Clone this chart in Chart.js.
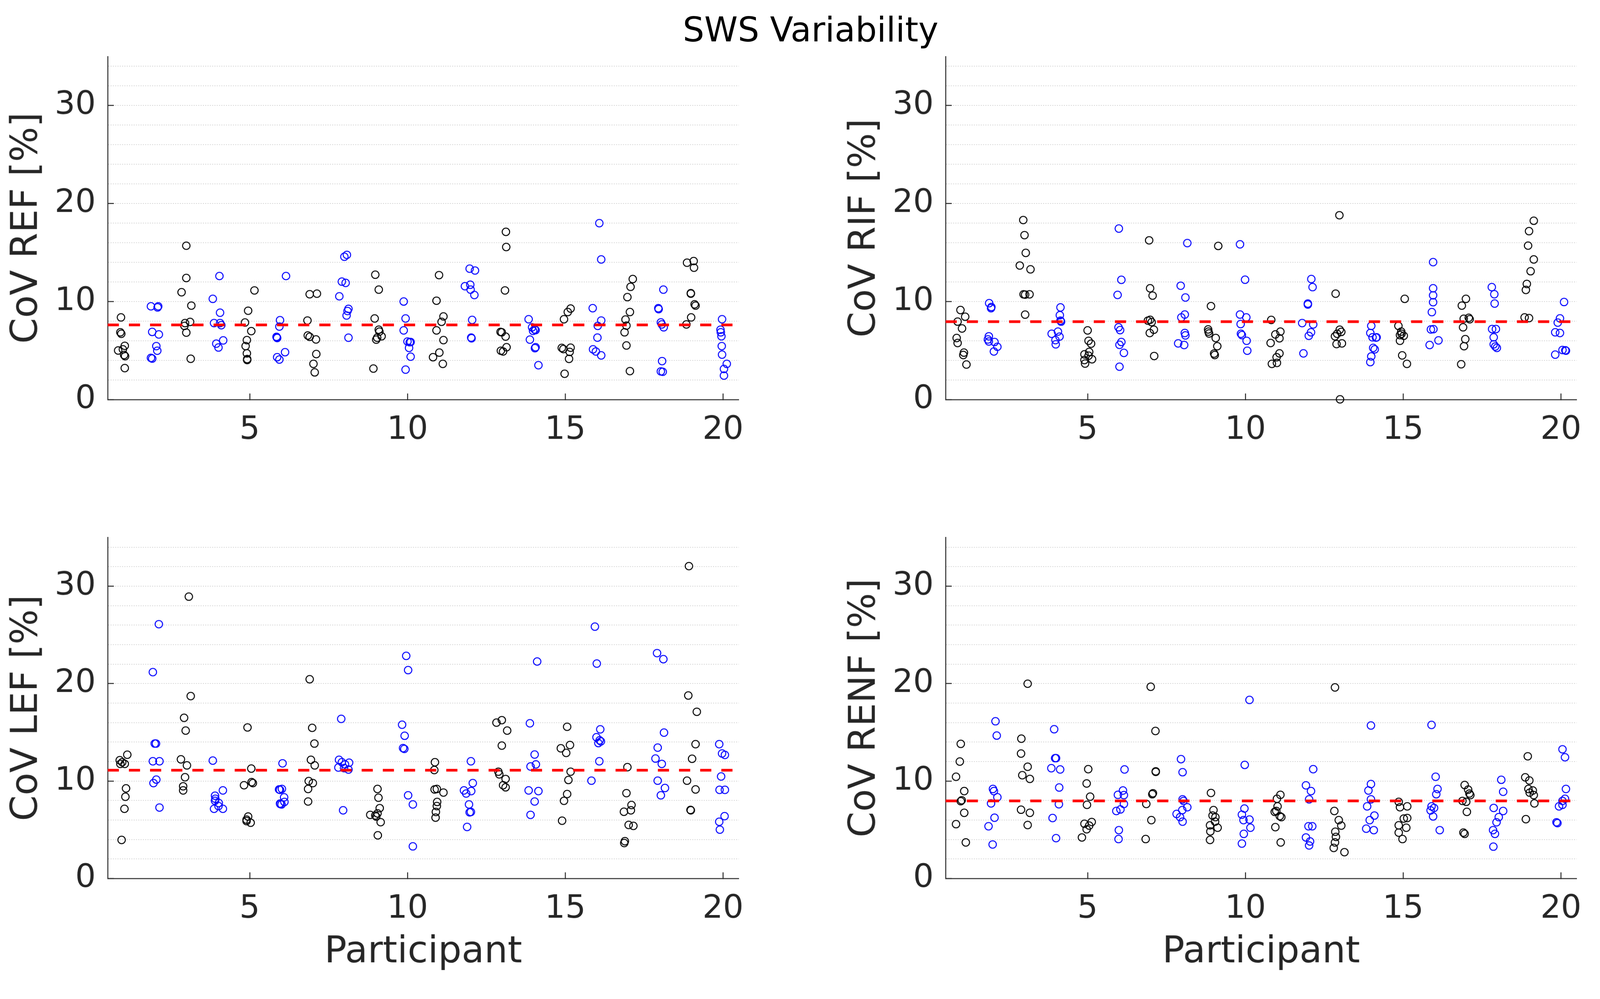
<!DOCTYPE html>
<html>
<head>
<meta charset="utf-8">
<title>SWS Variability</title>
<script src="https://cdn.jsdelivr.net/npm/chart.js@4.4.1/dist/chart.umd.min.js"></script>
<style>
  html, body { margin: 0; padding: 0; background: #fff; overflow: hidden; }
  #page { position: absolute; left: 0; top: 0; width: 4159px; height: 2558px; transform-origin: 0 0; font-family: "DejaVu Sans", sans-serif; }
  canvas { position: absolute; }
  #suptitle { position: absolute; left: 0; top: 34px; width: 4214px; text-align: center; font-size: 88px; line-height: 88px; color: #000; }
</style>
</head>
<body>
<div id="page">
<div id="suptitle">SWS Variability</div>
<canvas id="refChart"></canvas>
<canvas id="rifChart"></canvas>
<canvas id="lefChart"></canvas>
<canvas id="renfChart"></canvas>
</div>
<script>
// axis setup
const xTicks = [5, 10, 15, 20];
const yTicks = [0, 2, 4, 6, 8, 10, 12, 14, 16, 18, 20, 22, 24, 26, 28, 30, 32, 34];
const yLabels = [0, 10, 20, 30];
const yTitles = ["CoV REF [%]", "CoV RIF [%]", "CoV LEF [%]", "CoV RENF [%]"];
const meanValues = [7.62, 7.96, 11.11, 7.96];

// one row per participant (1..20), each point is [x with jitter, CoV]
const refPoints = [
  [[0.92,8.39],[0.90,6.87],[0.93,6.72],[1.04,5.49],[0.98,5.13],[0.83,5.01],[1.02,4.55],[1.05,4.43],[1.04,3.22]],
  [[1.87,9.52],[2.10,9.52],[2.08,9.41],[1.91,6.91],[2.12,6.65],[2.04,5.46],[2.07,4.99],[1.87,4.26],[1.91,4.19]],
  [[2.99,15.70],[2.99,12.41],[2.84,10.96],[3.15,9.59],[2.95,7.81],[3.11,7.93],[2.93,7.52],[2.99,6.84],[3.13,4.17]],
  [[4.04,12.61],[3.83,10.28],[4.06,8.87],[3.87,7.81],[4.06,7.81],[4.10,7.59],[4.16,6.04],[3.94,5.71],[4.01,5.32]],
  [[5.15,11.14],[4.95,9.07],[4.85,7.87],[5.05,6.99],[4.91,6.07],[4.87,5.46],[4.91,4.72],[4.92,4.14],[4.92,4.04]],
  [[6.15,12.61],[5.96,8.10],[5.94,7.45],[5.85,6.41],[5.87,6.29],[5.86,6.34],[6.12,4.84],[5.87,4.33],[5.94,4.09]],
  [[6.90,10.75],[7.13,10.81],[6.83,8.07],[6.84,6.54],[6.90,6.41],[7.10,6.14],[7.11,4.65],[7.02,3.65],[7.06,2.78]],
  [[8.00,14.58],[8.08,14.77],[7.92,12.04],[8.04,11.91],[7.84,10.54],[8.13,9.26],[8.10,9.04],[8.07,8.58],[8.13,6.32]],
  [[8.98,12.74],[9.09,11.22],[8.96,8.28],[9.09,7.13],[9.11,6.94],[9.18,6.46],[9.04,6.32],[9.01,6.12],[8.92,3.17]],
  [[9.88,10.01],[9.94,8.28],[9.88,7.06],[10.00,5.93],[10.07,5.86],[10.10,5.88],[10.05,5.28],[10.10,4.38],[9.94,3.06]],
  [[11.00,12.70],[10.92,10.09],[11.14,8.49],[11.08,7.94],[10.92,7.06],[11.14,6.07],[11.01,4.80],[10.81,4.33],[11.12,3.65]],
  [[11.97,13.36],[12.14,13.17],[11.82,11.57],[11.99,11.72],[12.00,11.22],[12.12,10.67],[12.05,8.13],[12.02,6.33],[12.03,6.26]],
  [[13.12,17.12],[13.13,15.57],[13.09,11.14],[12.95,6.91],[12.99,6.87],[13.11,6.43],[13.14,5.35],[12.96,4.99],[13.03,4.91]],
  [[13.84,8.20],[13.95,7.38],[14.03,7.16],[14.06,7.09],[13.98,7.01],[13.88,6.12],[14.06,5.35],[14.04,5.25],[14.15,3.51]],
  [[15.17,9.29],[15.08,8.94],[14.96,8.20],[14.89,5.28],[14.94,5.16],[15.17,5.30],[15.14,4.87],[15.12,4.16],[14.98,2.64]],
  [[16.08,18.00],[16.14,14.30],[15.87,9.33],[16.14,8.07],[16.03,7.52],[16.02,6.33],[15.88,5.13],[15.97,4.91],[16.14,4.51]],
  [[17.14,12.30],[17.07,11.51],[16.97,10.46],[17.05,8.94],[16.91,8.17],[16.94,7.55],[16.88,6.87],[16.94,5.52],[17.05,2.91]],
  [[18.11,11.22],[17.95,9.33],[17.96,9.23],[18.03,7.88],[18.06,7.67],[18.12,7.38],[18.07,3.93],[18.03,2.88],[18.09,2.84]],
  [[18.86,13.97],[19.07,14.14],[19.08,13.46],[18.98,10.86],[18.98,10.81],[19.10,9.72],[19.13,9.59],[18.99,8.39],[18.84,7.67]],
  [[19.97,8.20],[19.92,7.13],[19.93,6.87],[19.95,6.46],[19.96,5.46],[19.97,4.59],[20.12,3.65],[20.03,3.13],[20.03,2.45]]
];

const rifPoints = [
  [[0.97,9.14],[1.12,8.46],[0.88,7.96],[1.02,7.26],[0.85,6.29],[0.88,5.78],[1.08,4.80],[1.06,4.55],[1.16,3.58]],
  [[1.88,9.84],[1.95,9.45],[1.94,9.33],[1.87,6.46],[1.84,6.14],[1.87,5.93],[2.05,5.88],[2.14,5.39],[2.03,4.91]],
  [[2.96,18.32],[3.00,16.78],[3.04,14.97],[2.85,13.68],[3.19,13.29],[2.97,10.74],[3.02,10.71],[3.16,10.74],[3.02,8.67]],
  [[4.14,9.41],[4.12,8.61],[4.14,8.06],[4.16,7.96],[3.86,6.72],[4.06,6.94],[4.11,6.43],[3.98,6.07],[3.99,5.64]],
  [[5.00,7.06],[5.03,6.00],[5.11,5.71],[5.05,4.87],[4.90,4.62],[5.03,4.48],[5.14,4.12],[4.90,4.04],[4.92,3.68]],
  [[5.99,17.45],[6.07,12.22],[5.95,10.68],[5.98,7.38],[6.03,7.09],[6.07,5.88],[6.01,5.59],[6.15,4.77],[6.01,3.36]],
  [[6.95,16.25],[6.98,11.36],[7.06,10.61],[6.91,8.06],[6.98,8.14],[7.03,7.91],[7.10,7.13],[6.97,6.80],[7.11,4.45]],
  [[8.16,15.97],[7.95,11.62],[8.10,10.42],[8.08,8.68],[7.97,8.39],[8.08,6.80],[8.10,6.55],[7.87,5.74],[8.06,5.57]],
  [[9.14,15.68],[8.91,9.54],[8.82,7.16],[8.83,6.94],[8.85,6.75],[9.06,6.29],[9.11,5.45],[9.01,4.70],[9.03,4.55]],
  [[9.83,15.84],[9.99,12.23],[9.83,8.68],[10.03,8.39],[9.85,7.71],[9.86,6.72],[9.89,6.58],[10.04,6.00],[10.06,4.99]],
  [[10.82,8.13],[10.95,6.65],[11.11,6.94],[11.08,6.26],[10.80,5.78],[11.08,4.72],[10.99,4.33],[10.84,3.65],[11.00,3.75]],
  [[12.09,12.30],[12.13,11.48],[11.98,9.80],[11.98,9.70],[11.80,7.81],[12.15,7.67],[12.08,6.87],[12.01,6.51],[11.84,4.72]],
  [[12.98,18.81],[12.86,10.81],[12.99,7.13],[13.04,6.91],[12.91,6.72],[12.84,6.46],[13.06,5.74],[12.89,5.67],[13.00,0.03]],
  [[13.99,7.52],[13.96,6.80],[14.03,6.36],[14.14,6.33],[14.16,6.36],[14.05,5.28],[14.10,5.13],[13.99,4.41],[13.96,3.83]],
  [[15.05,10.28],[14.85,7.52],[14.94,6.94],[14.95,6.72],[14.90,6.58],[15.02,6.51],[14.90,6.00],[14.97,4.51],[15.12,3.65]],
  [[15.95,14.03],[15.95,11.36],[15.95,10.64],[15.95,9.94],[15.91,8.93],[15.88,7.16],[15.96,7.19],[16.12,6.04],[15.84,5.57]],
  [[16.99,10.28],[16.86,9.59],[16.92,8.25],[17.08,8.35],[17.11,8.20],[16.90,7.38],[16.97,6.17],[16.93,5.45],[16.84,3.61]],
  [[17.81,11.48],[17.89,10.75],[17.90,9.80],[17.82,7.20],[17.94,7.20],[17.87,6.36],[17.87,5.64],[17.92,5.42],[17.97,5.28]],
  [[19.14,18.25],[18.99,17.19],[18.96,15.71],[19.14,14.30],[19.04,13.10],[18.92,11.80],[18.89,11.19],[18.85,8.39],[18.99,8.32]],
  [[20.10,9.96],[19.97,8.29],[19.90,7.86],[19.82,6.87],[19.97,6.80],[19.82,4.59],[20.05,5.06],[20.14,5.03],[20.16,4.99]]
];

const lefPoints = [
  [[1.12,12.70],[0.88,12.14],[0.90,11.76],[1.04,11.76],[0.96,11.93],[1.08,9.25],[1.06,8.39],[1.03,7.15],[0.94,3.96]],
  [[2.12,26.10],[1.93,21.18],[1.99,13.85],[2.03,13.85],[1.93,12.03],[2.14,12.03],[2.04,10.15],[1.95,9.79],[2.14,7.28]],
  [[3.07,28.93],[3.13,18.72],[2.92,16.49],[2.97,15.18],[2.82,12.23],[3.01,11.61],[2.95,10.39],[2.89,9.46],[2.89,9.04]],
  [[3.83,12.10],[4.15,9.04],[3.90,8.50],[3.91,8.18],[3.90,7.97],[4.02,7.75],[4.01,7.43],[3.87,7.15],[4.15,7.15]],
  [[4.93,15.50],[5.05,11.28],[5.06,9.89],[5.10,9.79],[4.82,9.57],[4.95,6.36],[4.90,6.04],[4.90,5.89],[5.03,5.72]],
  [[6.04,11.82],[5.93,9.14],[6.02,9.19],[5.96,9.10],[6.09,8.33],[6.10,7.86],[5.97,7.64],[6.01,7.60],[5.96,7.69]],
  [[6.90,20.45],[6.98,15.46],[7.05,13.85],[6.94,12.18],[7.06,11.61],[6.87,10.00],[7.00,9.79],[6.85,9.19],[6.85,7.90]],
  [[7.90,16.38],[7.83,12.18],[7.92,11.93],[8.02,11.71],[8.15,11.88],[7.81,11.39],[7.99,11.33],[8.13,11.18],[7.96,7.00]],
  [[9.05,9.19],[9.08,8.29],[9.12,7.22],[8.82,6.53],[8.98,6.47],[9.05,6.68],[9.01,6.36],[9.15,5.78],[9.06,4.43]],
  [[9.96,22.85],[10.02,21.39],[9.83,15.78],[9.91,14.65],[9.86,13.38],[9.90,13.30],[10.02,8.54],[10.17,7.60],[10.17,3.30]],
  [[10.87,11.93],[10.85,11.13],[10.86,9.14],[10.93,9.19],[11.14,8.82],[10.94,7.86],[10.93,7.43],[10.90,6.83],[10.89,6.25]],
  [[12.01,12.03],[12.07,9.79],[11.79,9.04],[11.86,8.72],[12.02,8.97],[11.95,7.60],[11.97,6.79],[12.01,6.83],[11.89,5.29]],
  [[12.82,16.00],[12.99,16.25],[13.16,15.18],[12.99,13.64],[12.88,10.96],[12.91,10.69],[13.11,10.21],[13.03,9.57],[13.11,9.36]],
  [[14.11,22.27],[13.88,15.93],[14.03,12.72],[13.90,11.50],[14.07,11.71],[13.84,9.04],[14.15,8.97],[14.03,7.90],[13.90,6.53]],
  [[15.06,15.57],[14.86,13.36],[15.15,13.70],[15.03,12.89],[15.17,10.96],[15.10,10.11],[15.06,8.67],[14.96,7.97],[14.90,5.93]],
  [[15.94,25.85],[16.00,22.06],[16.11,15.31],[15.99,14.50],[16.09,14.18],[16.05,13.90],[16.13,14.07],[16.08,12.03],[15.83,10.04]],
  [[16.97,11.43],[16.94,8.76],[17.10,7.54],[17.08,7.00],[16.86,6.85],[17.01,5.50],[17.16,5.40],[16.89,3.83],[16.87,3.64]],
  [[17.91,23.13],[18.11,22.51],[18.13,14.97],[17.93,13.43],[17.86,12.31],[18.06,11.76],[17.93,10.04],[18.16,9.29],[18.03,8.54]],
  [[18.92,32.06],[18.90,18.78],[19.17,17.11],[19.13,13.79],[19.02,12.29],[18.86,10.04],[19.13,9.14],[18.97,7.04],[18.98,7.00]],
  [[19.88,13.79],[19.97,12.83],[20.06,12.68],[19.94,10.47],[19.89,9.10],[20.06,9.10],[20.05,6.40],[19.88,5.82],[19.90,5.01]]
];

const renfPoints = [
  [[0.98,13.82],[0.95,12.00],[0.83,10.44],[1.09,8.97],[1.01,8.03],[0.98,7.93],[1.09,6.74],[0.83,5.58],[1.14,3.70]],
  [[2.08,16.14],[2.12,14.67],[2.00,9.19],[2.03,8.97],[2.14,8.34],[1.94,7.71],[2.05,6.24],[1.86,5.36],[1.99,3.49]],
  [[3.10,19.99],[2.90,14.35],[2.89,12.82],[3.10,11.47],[2.93,10.60],[3.17,10.22],[2.89,7.06],[3.17,6.74],[3.10,5.49]],
  [[3.94,15.32],[3.97,12.35],[4.00,12.35],[3.85,11.32],[4.13,11.19],[4.10,9.34],[4.09,7.62],[3.89,6.21],[4.00,4.14]],
  [[5.02,11.22],[4.97,9.75],[5.08,8.40],[4.98,7.56],[4.90,5.62],[5.13,5.80],[5.05,5.43],[4.97,5.05],[4.82,4.21]],
  [[6.17,11.19],[6.12,9.03],[5.96,8.59],[6.15,8.56],[6.15,7.65],[6.04,7.09],[5.91,6.93],[5.99,4.96],[5.98,4.05]],
  [[7.00,19.68],[7.15,15.14],[7.16,11.00],[7.16,10.94],[7.07,8.75],[7.05,8.65],[6.86,7.65],[7.02,5.99],[6.84,4.05]],
  [[7.96,12.25],[8.01,10.91],[8.01,8.12],[8.04,7.96],[8.16,7.31],[8.00,7.02],[7.82,6.62],[7.93,6.30],[8.01,5.83]],
  [[8.91,8.78],[8.99,7.02],[8.96,6.46],[9.05,6.30],[9.04,5.83],[8.88,5.46],[9.12,5.21],[8.89,4.83],[8.88,3.96]],
  [[10.13,18.33],[9.98,11.66],[9.97,7.18],[9.89,6.55],[9.94,5.99],[10.13,6.05],[10.16,5.21],[9.95,4.58],[9.89,3.58]],
  [[11.11,8.59],[11.00,8.18],[11.02,7.40],[10.93,6.84],[10.98,6.93],[11.09,6.40],[11.14,6.30],[10.95,5.27],[11.12,3.70]],
  [[12.15,11.22],[11.92,9.56],[12.08,8.97],[12.02,8.12],[12.00,5.36],[12.12,5.36],[11.92,4.21],[12.05,3.80],[12.02,3.39]],
  [[12.84,19.61],[12.82,6.93],[12.96,5.99],[13.04,5.43],[12.85,4.80],[12.87,4.27],[12.84,3.70],[12.80,3.14],[13.14,2.70]],
  [[13.98,15.70],[13.98,9.69],[13.90,9.03],[13.98,8.12],[13.86,7.40],[14.09,6.46],[13.94,5.99],[13.83,5.11],[14.07,4.96]],
  [[14.86,7.87],[14.90,7.31],[15.13,7.40],[15.02,6.15],[15.13,6.21],[14.86,5.46],[15.10,5.21],[14.86,4.71],[14.98,4.05]],
  [[15.90,15.76],[16.03,10.44],[16.09,9.19],[16.05,8.65],[15.90,7.40],[15.98,7.24],[15.87,6.99],[15.95,6.37],[16.16,4.96]],
  [[16.95,9.59],[17.06,9.12],[17.10,8.72],[17.13,8.56],[16.88,7.96],[17.00,7.87],[17.02,6.84],[16.91,4.71],[16.95,4.58]],
  [[18.11,10.13],[18.17,8.90],[17.87,7.24],[18.17,6.93],[18.03,6.30],[17.96,5.77],[17.85,4.96],[17.91,4.58],[17.86,3.27]],
  [[18.95,12.54],[18.87,10.38],[19.00,10.06],[18.97,9.19],[19.11,9.03],[19.01,8.81],[19.14,8.56],[19.16,7.71],[18.89,6.09]],
  [[20.05,13.26],[20.13,12.44],[20.16,9.19],[20.13,8.18],[20.05,7.96],[19.94,7.40],[20.05,7.56],[19.86,5.77],[19.89,5.68]]
];

const FONT = "DejaVu Sans";
const AXIS_GREY = "#262626";
Chart.defaults.font.family = FONT;

// the layout is drawn on a 4159x2558 page; fit it to the real viewport
const pageScale = Math.min(window.innerWidth / 4159, window.innerHeight / 2558);
document.getElementById("page").style.transform = "scale(" + pageScale + ")";

// where each panel sits on the page
const topRow = { top: 0, h: 1300, padTop: 147, xh: 261 };
const bottomRow = { top: 1300, h: 1258, padTop: 86, xh: 274 };

function makePanel(id, rows, mean, yTitle, left, row, showXTitle) {
  const canvas = document.getElementById(id);
  canvas.width = 1980;
  canvas.height = row.h;
  canvas.style.left = left + "px";
  canvas.style.top = row.top + "px";

  // odd participants black, even participants blue
  const blackPts = [];
  const bluePts = [];
  rows.forEach((pts, i) => {
    const target = i % 2 === 0 ? blackPts : bluePts;
    pts.forEach(p => target.push({ x: p[0], y: p[1] }));
  });

  const circle = {
    pointStyle: "circle",
    pointRadius: 9.7,
    pointBorderWidth: 2.5,
    pointBackgroundColor: "rgba(0,0,0,0)",
    backgroundColor: "rgba(0,0,0,0)",
    clip: false,
    order: 1
  };

  return new Chart(canvas.getContext("2d"), {
    type: "scatter",
    data: {
      datasets: [
        {
          type: "line",
          data: [{ x: 0.5, y: mean }, { x: 20.5, y: mean }],
          borderColor: "#ff0000",
          borderWidth: 7,
          borderDash: [29, 26],
          pointRadius: 0,
          fill: false,
          order: 0
        },
        Object.assign({ data: blackPts, borderColor: "#000000", pointBorderColor: "#000000" }, circle),
        Object.assign({ data: bluePts, borderColor: "#0000ff", pointBorderColor: "#0000ff" }, circle)
      ]
    },
    options: {
      responsive: false,
      animation: false,
      devicePixelRatio: 1,
      layout: { padding: { top: row.padTop, right: 49, left: 0, bottom: 0 } },
      plugins: { legend: { display: false }, tooltip: { enabled: false } },
      scales: {
        x: {
          type: "linear",
          min: 0.5,
          max: 20.5,
          afterBuildTicks: s => { s.ticks = xTicks.map(v => ({ value: v })); },
          afterFit: s => { s.height = row.xh; },
          grid: { drawOnChartArea: false, tickLength: -16, tickWidth: 2.5, tickColor: AXIS_GREY },
          border: { color: AXIS_GREY, width: 2.5 },
          ticks: { autoSkip: false, maxRotation: 0, padding: 46, color: AXIS_GREY, font: { size: 84 } },
          title: {
            display: showXTitle,
            text: "Participant",
            color: AXIS_GREY,
            font: { size: 96 },
            padding: { top: 0, bottom: 23 }
          }
        },
        y: {
          type: "linear",
          min: 0,
          max: 35,
          afterBuildTicks: s => { s.ticks = yTicks.map(v => ({ value: v })); },
          afterFit: s => { s.width = 280; },
          grid: {
            color: c => (c.tick && c.tick.value > 0 ? "#d0d0d0" : "rgba(0,0,0,0)"),
            lineWidth: 2,
            tickLength: -16,
            tickWidth: 2.5,
            tickColor: c => (c.tick && yLabels.includes(c.tick.value) ? AXIS_GREY : "rgba(0,0,0,0)")
          },
          border: { color: AXIS_GREY, width: 2.5, dash: [2.5, 3.5] },
          ticks: {
            autoSkip: false,
            padding: 47,
            color: AXIS_GREY,
            font: { size: 84 },
            callback: v => (yLabels.includes(v) ? String(v) : "")
          },
          title: {
            display: true,
            text: yTitle,
            color: AXIS_GREY,
            font: { size: 96 },
            padding: { top: 13, bottom: 0 }
          }
        }
      }
    }
  });
}

makePanel("refChart", refPoints, meanValues[0], yTitles[0], 0, topRow, false);
makePanel("rifChart", rifPoints, meanValues[1], yTitles[1], 2178, topRow, false);
makePanel("lefChart", lefPoints, meanValues[2], yTitles[2], 0, bottomRow, true);
makePanel("renfChart", renfPoints, meanValues[3], yTitles[3], 2178, bottomRow, true);
</script>
</body>
</html>
